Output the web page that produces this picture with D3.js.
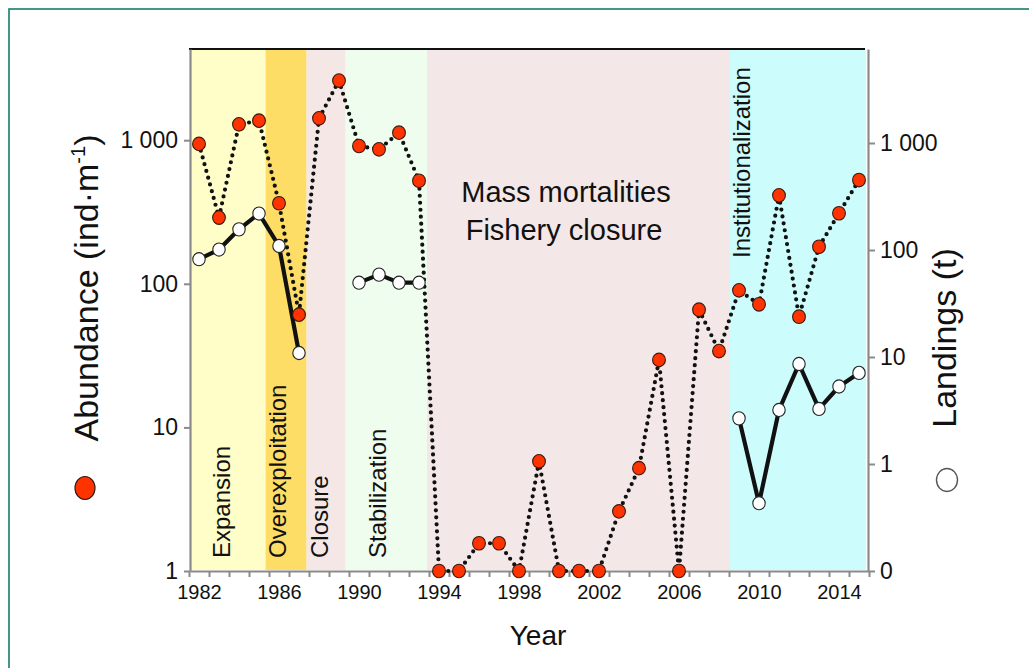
<!DOCTYPE html>
<html>
<head>
<meta charset="utf-8">
<script src="https://cdn.jsdelivr.net/npm/d3@7"></script>
<style>
  html, body { margin: 0; padding: 0; background: #ffffff; }
  svg { display: block; font-family: "Liberation Sans", Arial, sans-serif; }
</style>
</head>
<body>
<svg id="chart" width="1029" height="668"></svg>
<script>
// ---------------- data ----------------
const years = d3.range(1982, 2016);
// Abundance (ind·m-1), red markers, left log axis
const abundance = [942, 289, 1290, 1368, 364, 61, 1420, 2600, 911, 864, 1128, 522,
  1, 1, 1.56, 1.56, 1, 5.8, 1, 1, 1, 2.6, 5.2, 29.5, 1, 66, 34,
  90, 72, 413, 59, 181, 310, 528];
// Landings (t), white markers, right log axis (0 plotted at bottom)
const landings = [82, 101, 156, 219, 109, 10.9, null, null, 49.5, 58.9, 49.5, 49.5,
  null, null, null, null, null, null, null, null, null, null, null, null, null, null, null,
  2.67, 0.43, 3.2, 8.6, 3.27, 5.3, 7.1];
const periodNames = ["Expansion", "Overexploitation", "Closure", "Stabilization", "Mass mortalities", "Institutionalization"];
const periodStart = [1981.55, 1985.33, 1987.38, 1989.33, 1993.4, 2008.55];
const periodEnd   = [1985.33, 1987.38, 1989.33, 1993.4, 2008.55, 2015.35];
const periodColors = ["#FFFDC8", "#FDDD66", "#F6E7E7", "#EEFDEE", "#F4E7E7", "#CCFCFC"];
const yearTickLabels = [1982, 1986, 1990, 1994, 1998, 2002, 2006, 2010, 2014];
const leftTicks = [1, 10, 100, 1000];
const leftTickLabels = ["1", "10", "100", "1 000"];
const rightTicks = [0.1, 1, 10, 100, 1000];
const rightTickLabels = ["0", "1", "10", "100", "1 000"];

// ---------------- layout ----------------
const svg = d3.select("#chart");
const L = 190, R = 868, T = 49, B = 571;

const x = d3.scaleLinear().domain([1981.55, 2015.45]).range([L, R]);
const yL = d3.scaleLog().domain([1, Math.pow(10, (B - T) / 143.6)]).range([B, T]);
const yR = d3.scaleLog().domain([0.1, Math.pow(10, -1 + (B - T) / 107)]).range([B, T]);

// frame
svg.append("rect").attr("x", 9).attr("y", 9).attr("width", 1030).attr("height", 680)
  .attr("fill", "none").attr("stroke", "#1b7a6c").attr("stroke-width", 1.6);

// period bands
svg.append("g").selectAll("rect").data(periodNames).join("rect")
  .attr("x", (d, i) => x(periodStart[i]))
  .attr("width", (d, i) => x(periodEnd[i]) - x(periodStart[i]))
  .attr("y", T + 1).attr("height", B - T - 2)
  .attr("fill", (d, i) => periodColors[i]);

// top line
svg.append("line").attr("x1", L - 1).attr("x2", 865).attr("y1", T).attr("y2", T)
  .attr("stroke", "#111").attr("stroke-width", 2.2);

// period labels (rotated)
const rotLabels = [
  {i: 0, bx: 230, by: 558},
  {i: 1, bx: 285.5, by: 558},
  {i: 2, bx: 328, by: 558},
  {i: 3, bx: 386, by: 558},
  {i: 5, bx: 749.5, by: 258}
];
svg.append("g").selectAll("text").data(rotLabels).join("text")
  .attr("transform", d => `translate(${d.bx},${d.by}) rotate(-90)`)
  .attr("font-size", 24).attr("fill", "#111")
  .text(d => periodNames[d.i]);

svg.append("text").attr("x", 566).attr("y", 202).attr("text-anchor", "middle")
  .attr("font-size", 29).attr("fill", "#111").text("Mass mortalities");
svg.append("text").attr("x", 564).attr("y", 240).attr("text-anchor", "middle")
  .attr("font-size", 29).attr("fill", "#111").text("Fishery closure");

// axes
const axisColor = "#8a8a8a";
function styleAxis(g) {
  g.selectAll(".domain").attr("stroke", axisColor).attr("stroke-width", 2.2);
  g.selectAll(".tick line").attr("stroke", axisColor).attr("stroke-width", 2);
  g.selectAll("text").attr("fill", "#111").attr("font-family", "Liberation Sans, Arial, sans-serif");
}

const gLeft = svg.append("g").attr("transform", `translate(${L},0)`)
  .call(d3.axisLeft(yL).tickValues(leftTicks)
    .tickFormat((d, i) => leftTickLabels[i]).tickSize(6).tickSizeOuter(0).tickPadding(6));
gLeft.call(styleAxis);
gLeft.selectAll("text").attr("font-size", 23);

const gRight = svg.append("g").attr("transform", `translate(${R},0)`)
  .call(d3.axisRight(yR).tickValues(rightTicks)
    .tickFormat((d, i) => rightTickLabels[i]).tickSize(7).tickSizeOuter(0).tickPadding(5));
gRight.call(styleAxis);
gRight.selectAll("text").attr("font-size", 23);

const boundaries = d3.range(0, 35).map(k => 1981.5 + k);
const gBottomTicks = svg.append("g").attr("transform", `translate(0,${B})`)
  .call(d3.axisBottom(x).tickValues(boundaries.filter(v => v >= 1981.55 - 0.1))
    .tickFormat("").tickSize(6).tickSizeOuter(0));
gBottomTicks.call(styleAxis);

const gBottom = svg.append("g").attr("transform", `translate(0,${B})`)
  .call(d3.axisBottom(x).tickValues(yearTickLabels).tickFormat(d3.format("d"))
    .tickSize(0).tickPadding(14));
gBottom.select(".domain").remove();
gBottom.call(styleAxis);
gBottom.selectAll("text").attr("font-size", 20);

// lines
const redLine = d3.line().x((d, i) => x(years[i])).y(d => yL(d));
svg.append("path").attr("d", redLine(abundance))
  .attr("fill", "none").attr("stroke", "#111").attr("stroke-width", 4.2)
  .attr("stroke-dasharray", "0 7").attr("stroke-linecap", "round");

const whiteLine = d3.line().defined(d => d !== null)
  .x((d, i) => x(years[i])).y(d => yR(d));
svg.append("path").attr("d", whiteLine(landings))
  .attr("fill", "none").attr("stroke", "#111").attr("stroke-width", 4.2)
  .attr("stroke-linejoin", "round");

// markers
const landPts = landings.map((v, i) => ({v, yr: years[i]})).filter(d => d.v !== null);
svg.append("g").selectAll("ellipse").data(landPts).join("ellipse")
  .attr("cx", d => x(d.yr)).attr("cy", d => yR(d.v))
  .attr("rx", 6.2).attr("ry", 6.6)
  .attr("fill", "#fff").attr("stroke", "#222").attr("stroke-width", 1.1);

svg.append("g").selectAll("ellipse").data(abundance).join("ellipse")
  .attr("cx", (d, i) => x(years[i])).attr("cy", d => yL(d))
  .attr("rx", 6.4).attr("ry", 6.8)
  .attr("fill", "#FF3300").attr("stroke", "#3a1a10").attr("stroke-width", 1.1);

// axis titles
const tl = svg.append("text")
  .attr("transform", "translate(98,288) rotate(-90)")
  .attr("text-anchor", "middle").attr("font-size", 34).attr("fill", "#111");
tl.append("tspan").text("Abundance (ind·m");
tl.append("tspan").attr("font-size", 20).attr("dy", -13).text("-1");
tl.append("tspan").attr("dy", 13).text(")");

svg.append("text")
  .attr("transform", "translate(956,338) rotate(-90)")
  .attr("text-anchor", "middle").attr("font-size", 34).attr("fill", "#111")
  .text("Landings (t)");

svg.append("text").attr("x", 538).attr("y", 645).attr("text-anchor", "middle")
  .attr("font-size", 28).attr("fill", "#111").text("Year");

// legend markers
svg.append("ellipse").attr("cx", 85).attr("cy", 488).attr("rx", 10).attr("ry", 11.5)
  .attr("fill", "#FF3300").attr("stroke", "#3a1a10").attr("stroke-width", 1.2);
svg.append("ellipse").attr("cx", 947).attr("cy", 480).attr("rx", 10.5).attr("ry", 11.5)
  .attr("fill", "#fff").attr("stroke", "#555").attr("stroke-width", 1.4);
</script>
</body>
</html>
